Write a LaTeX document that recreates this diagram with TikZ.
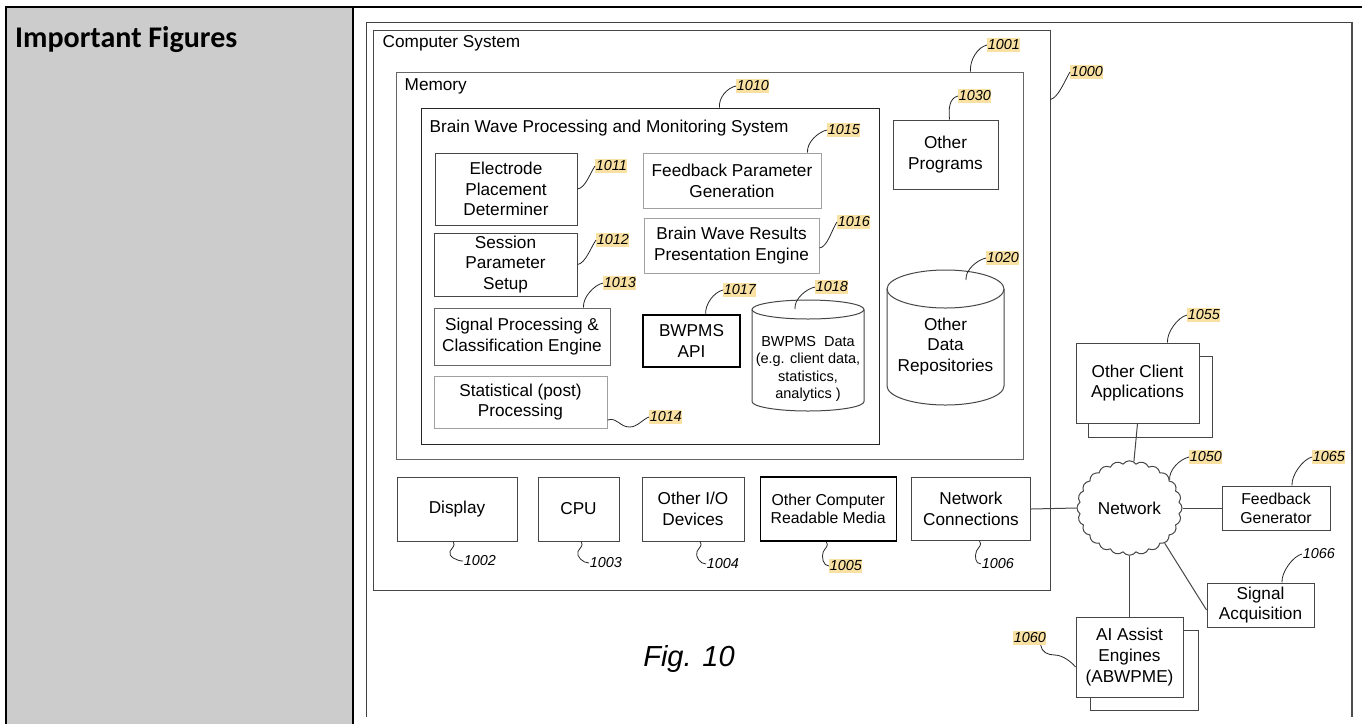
\documentclass[tikz,border=0pt]{standalone}
\usepackage{fontspec}
\setmainfont{Liberation Sans}
\newfontfamily\cellfont{Carlito}
\usetikzlibrary{positioning,shapes.symbols}

\definecolor{cellgray}{RGB}{204,204,204}
\definecolor{refmark}{RGB}{249,225,163}
\definecolor{edgegray}{RGB}{70,70,70}
\definecolor{paleedge}{RGB}{160,160,160}
\definecolor{midedge}{RGB}{105,105,105}

\begin{document}
\begin{tikzpicture}[
  x=1pt,y=-1pt,
  box/.style={draw=edgegray,line width=1pt,fill=white,inner sep=0pt,align=center,
    font=\fontsize{17.2}{20.8}\selectfont},
  palebox/.style={box,draw=paleedge},
  boldbox/.style={box,draw=black,line width=1.5pt},
  holder/.style={draw=edgegray,line width=1pt,inner sep=0pt},
  boxtitle/.style={anchor=base west,inner sep=0pt,font=\fontsize{17.2}{20.8}\selectfont},
  refno/.style={anchor=west,inner xsep=0.6pt,inner ysep=0.6pt,text height=10.6pt,
    text depth=1.8pt,font=\fontsize{14.4}{16}\selectfont\itshape},
  refhl/.style={refno,fill=refmark},
  lead/.style={draw=black!85,line width=0.8pt},
  link/.style={draw=edgegray,line width=1pt},
  tablerule/.style={draw=black,line width=2.4pt}
]
\useasboundingbox (0,0) rectangle (1362,724);

% table cell
\fill[cellgray] (6,7) rectangle (353,724);
\draw[tablerule] (6,724) -- (6,7) -- (1362,7);
\draw[tablerule] (353,7) -- (353,724);
\node[anchor=base west,inner sep=0pt,font=\cellfont\bfseries\fontsize{30}{34}\selectfont]
  (heading) at (15,47) {Important Figures};

% figure border
\draw[draw=black!75,line width=1pt] (366,717) -- (366,22) -- (1352,22);
\draw[draw=black!70,line width=1.8pt] (1352,22) -- (1352,717);

% containers
\node[holder,minimum width=677pt,minimum height=560pt] (cs) at (711.5,310) {};
\node[boxtitle] (cstitle) at ([xshift=10pt,yshift=-18pt]cs.north west) {Computer System};
\node[holder,draw=black!60,minimum width=627pt,minimum height=387pt] (mem) at (709.5,265.5) {};
\node[boxtitle] (memtitle) at ([xshift=9pt,yshift=-19pt]mem.north west) {Memory};
\node[holder,draw=black!85,minimum width=458pt,minimum height=336pt] (bwp) at (650,276) {};
\node[boxtitle] (bwptitle) at ([xshift=9pt,yshift=-25pt]bwp.north west) {Brain Wave Processing and Monitoring System};

% modules
\node[box,minimum width=142pt,minimum height=72pt] (elec) at (506,189) {Electrode\\Placement\\Determiner};
\node[box,minimum width=143pt,minimum height=63pt] (sess) at (505.5,264.5) {Session\\Parameter\\Setup};
\node[box,draw=midedge,minimum width=176pt,minimum height=57pt] (sigp) at (522,336.5) {Signal Processing \&\\Classification Engine};
\node[palebox,minimum width=173pt,minimum height=52pt] (stat) at (520.5,402) {Statistical (post)\\Processing};
\node[palebox,minimum width=178pt,minimum height=55pt] (fpg) at (732,180.5) {Feedback Parameter\\Generation};
\node[palebox,minimum width=175pt,minimum height=55pt] (bwr) at (731.5,245.5) {Brain Wave Results\\Presentation Engine};
\node[boldbox,minimum width=97pt,minimum height=52pt] (api) at (691.5,341) {BWPMS\\API};

% data stores
\filldraw[draw=edgegray,fill=white,line width=1pt] (752,309.5) -- (752,401.5)
  arc[start angle=180,end angle=360,x radius=56pt,y radius=9.5pt] -- (864,309.5);
\draw[edgegray,line width=1pt] (808,309.5) ellipse[x radius=56pt,y radius=9.5pt];
\node[align=center,font=\fontsize{14.5}{17.3}\selectfont] (bwd) at (808,369) {BWPMS~ Data\\(e.g. client data,\\statistics,\\analytics )};
\coordinate (bwdpin) at (795,309);

\node[box,minimum width=105pt,minimum height=69pt] (oprog) at (945.5,154.5) {Other\\Programs};
\filldraw[draw=edgegray,fill=white,line width=1pt] (887,289) -- (887,386)
  arc[start angle=180,end angle=360,x radius=58.5pt,y radius=19pt] -- (1004,289);
\draw[edgegray,line width=1pt] (945.5,289) ellipse[x radius=58.5pt,y radius=19pt];
\node[align=center,font=\fontsize{17.2}{20.8}\selectfont] (odr) at (945.5,346.5) {Other\\Data\\Repositories};
\coordinate (odrpin) at (966,280);

% hardware row
\node[box,minimum width=120pt,minimum height=64pt] (disp) at (457,509) {Display};
\node[box,minimum width=81pt,minimum height=64pt,right=20pt of disp] (cpu) {CPU};
\node[box,minimum width=102pt,minimum height=64pt,right=22pt of cpu] (io) {Other I/O\\Devices};
\node[boldbox,minimum width=136pt,minimum height=64pt,right=15pt of io,
  font=\fontsize{15.8}{18.5}\selectfont] (media) {Other Computer\\Readable Media};
\node[box,minimum width=119pt,minimum height=63pt,right=14pt of media] (netc) {Network\\Connections};

% network side
\node[cloud,draw=edgegray,line width=1pt,fill=white,cloud puffs=24,cloud puff arc=110,
  minimum width=105pt,minimum height=78pt,inner sep=0pt,
  font=\fontsize{17.2}{20.8}\selectfont] (net) at (1129.5,508) {Network};
\node[box,minimum width=108pt,minimum height=44pt,font=\fontsize{15.8}{19}\selectfont] (fbg) at (1276,508) {Feedback\\Generator};
\node[box,minimum width=107pt,minimum height=44pt] (sig) at (1260.5,605) {Signal\\Acquisition};
\node[box,minimum width=124pt,minimum height=81pt] (cappback) at (1150,396.5) {};
\node[box,minimum width=123pt,minimum height=80pt] (capp) at (1137.5,383) {Other Client\\Applications};
\node[box,minimum width=108pt,minimum height=80pt] (aiback) at (1144,670) {};
\node[box,minimum width=107pt,minimum height=80pt] (ai) at (1129.5,657) {AI Assist\\Engines\\(ABWPME)};

\draw[link] (netc.east) -- (net.west);
\draw[link] (net.east) -- (fbg.west);
\draw[link] (capp.south) -- (net);
\draw[link] (net.south) -- (ai.north);
\draw[link] (net.-45) -- ([yshift=-5pt]sig.west);

% reference numerals
\node[refhl] (n1001) at (987,45) {1001};
\node[refhl] (n1000) at (1070,72) {1000};
\node[refhl] (n1010) at (736,86) {1010};
\node[refhl] (n1030) at (958,96) {1030};
\node[refhl] (n1015) at (827,130) {1015};
\node[refhl] (n1011) at (595,166) {1011};
\node[refhl] (n1016) at (837,222) {1016};
\node[refhl] (n1012) at (596,240) {1012};
\node[refhl] (n1020) at (986,258) {1020};
\node[refhl] (n1013) at (603,283) {1013};
\node[refhl] (n1017) at (723,290) {1017};
\node[refhl] (n1018) at (815,287) {1018};
\node[refhl] (n1055) at (1187,315) {1055};
\node[refhl] (n1014) at (649,417) {1014};
\node[refhl] (n1050) at (1189,457) {1050};
\node[refhl] (n1065) at (1312,457) {1065};
\node[refno] (n1066) at (1302,554) {1066};
\node[refno] (n1002) at (463,561) {1002};
\node[refno] (n1003) at (589,563) {1003};
\node[refno] (n1004) at (706,564) {1004};
\node[refhl] (n1005) at (829,566) {1005};
\node[refno] (n1006) at (981,564) {1006};
\node[refhl] (n1060) at (1013,638) {1060};

% leaders
\draw[lead] ([xshift=-53pt]mem.north east) .. controls +(-1,-12) and +(-9,2) .. (n1001.west);
\draw[lead] ([yshift=-70pt]cs.north east) .. controls +(8,-2) and +(-5,8) .. (n1000.west);
\draw[lead] ([xshift=299pt]bwp.north west) .. controls +(-1,-10) and +(-9,2) .. (n1010.west);
\draw[lead] ([xshift=57pt]oprog.north west) .. controls +(-1,-10) and +(-9,2) .. (n1030.west);
\draw[lead] ([xshift=-14pt]fpg.north east) .. controls +(-1,-10) and +(-9,2) .. (n1015.west);
\draw[lead] (elec.east) .. controls +(8,-1) and +(-5,7) .. (n1011.west);
\draw[lead] ([yshift=-2.5pt]bwr.east) .. controls +(8,-1) and +(-5,7) .. (n1016.west);
\draw[lead] (sess.east) .. controls +(8,-1) and +(-5,7) .. (n1012.west);
\draw[lead] (odrpin) .. controls +(-1,-10) and +(-9,2) .. (n1020.west);
\draw[lead] ([xshift=-27pt]sigp.north east) .. controls +(-1,-10) and +(-9,2) .. (n1013.west);
\draw[lead] ([xshift=-35pt]api.north east) .. controls +(-1,-10) and +(-9,2) .. (n1017.west);
\draw[lead] (bwdpin) .. controls +(-1,-10) and +(-9,2) .. (n1018.west);
\draw[lead] ([xshift=-32pt]capp.north east) .. controls +(-1,-10) and +(-9,2) .. (n1055.west);
\draw[lead] ([yshift=-18pt]stat.east) .. controls +(10,-3) and +(-10,0) .. ++(22,7)
  .. controls +(8,0) and +(-6,2) .. (n1014.west);
\draw[lead] (net.35) .. controls +(-1,-10) and +(-9,2) .. (n1050.west);
\draw[lead] ([xshift=16pt]fbg.north) .. controls +(-1,-10) and +(-9,2) .. (n1065.west);
\draw[lead] ([xshift=21.5pt]sig.north) .. controls +(-1,-10) and +(-9,2) .. (n1066.west);
\draw[lead] ([xshift=-6pt]n1060.south east) .. controls +(1,7) and +(-7,0) .. ++(14,10)
  .. controls +(8,0) and +(-4,-5) .. ([yshift=-10pt]ai.west);
\draw[lead] ([xshift=-4pt]disp.south) .. controls +(3,4) and +(2,-4) .. ++(-3,10)
  .. controls +(-2,5) and +(-6,0) .. (n1002.west);
\draw[lead] ([xshift=2.5pt]cpu.south) .. controls +(3,4) and +(2,-4) .. ++(-3,10)
  .. controls +(-2,5) and +(-6,0) .. (n1003.west);
\draw[lead] ([xshift=7pt]io.south) .. controls +(3,4) and +(2,-4) .. ++(-3,10)
  .. controls +(-2,5) and +(-6,0) .. (n1004.west);
\draw[lead] ([xshift=-2pt]media.south) .. controls +(3,4) and +(2,-4) .. ++(-3,10)
  .. controls +(-2,5) and +(-6,0) .. (n1005.west);
\draw[lead] ([xshift=8.5pt]netc.south) .. controls +(3,4) and +(2,-4) .. ++(-3,10)
  .. controls +(-2,5) and +(-6,0) .. (n1006.west);

% caption
\node[font=\fontsize{29}{32}\selectfont\itshape] (figcap) at (689,659) {Fig. 10};
\end{tikzpicture}
\end{document}
